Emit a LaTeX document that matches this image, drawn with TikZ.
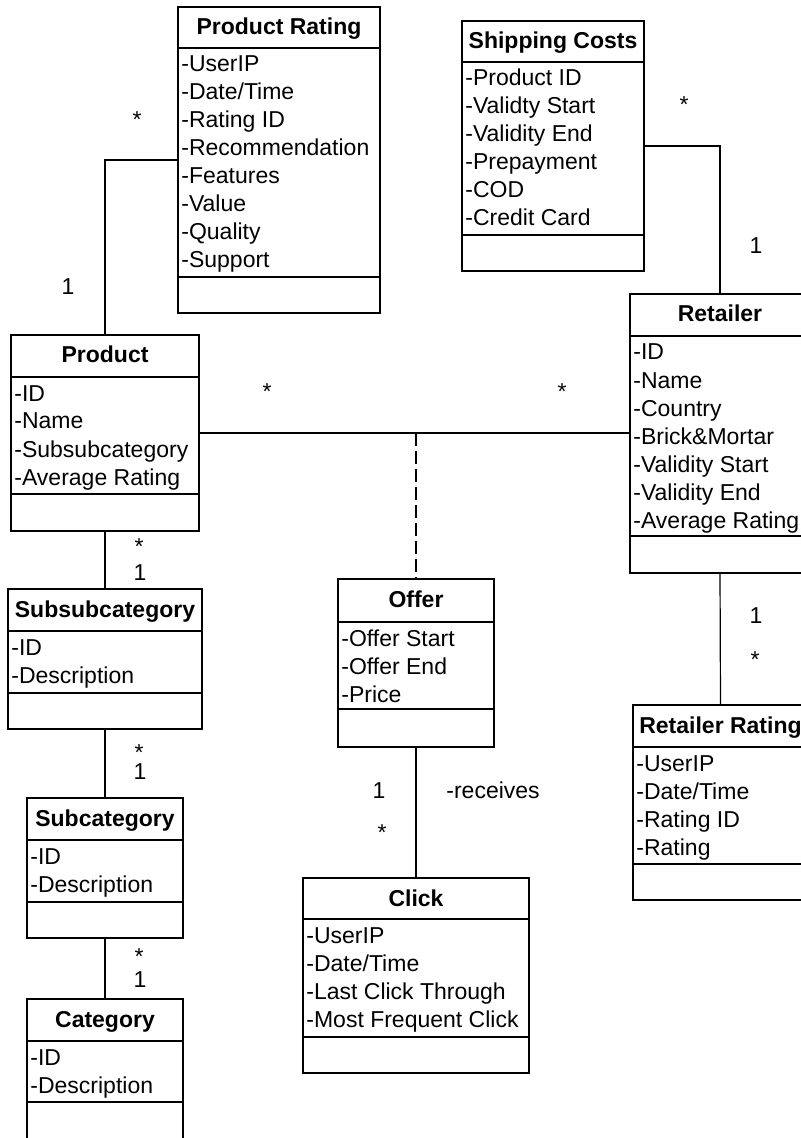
\documentclass[tikz,border=0pt]{standalone}
\usepackage{fontspec}
\setmainfont{Liberation Sans}
\usetikzlibrary{fit}
\tikzset{
  classbox/.style={draw, line width=1pt, inner sep=0pt, outer sep=0pt},
  boxline/.style={line width=1pt},
  titletext/.style={anchor=base, inner sep=0pt, font=\bfseries},
  attrtext/.style={anchor=base west, inner sep=0pt},
  conn/.style={line width=0.6pt},
  mult/.style={anchor=base, inner sep=0pt},
}
\newcommand\umlclass[9]{%
  \coordinate (#1-nw) at (#2,#3);
  \coordinate (#1-se) at (#4,#7);
  \node[classbox, fit=(#1-nw)(#1-se)] (#1) {};
  \draw[boxline] (#2,#5) -- (#4,#5) (#2,#6) -- (#4,#6);
  \node[titletext] (#1-title) at ({(#2+#4)/2},{#3+28}) {#8};
  \foreach \a [count=\i] in {#9} {
    \node[attrtext] (#1-a\i) at ({#2+3},{#5+24+28*(\i-1)}) {\a};
  }
}
\begin{document}
\begin{tikzpicture}[x=0.5pt, y=-0.5pt]
\fontsize{11.5}{14}\selectfont
\useasboundingbox (0,0) rectangle (801,1138);
\clip (0,0) rectangle (801,1138);
\fill[white] (0,0) rectangle (801,1138);

\umlclass{prodrating}{178}{7}{380}{48}{277}{313}{Product Rating}{-UserIP,-Date/Time,-Rating ID,-Recommendation,-Features,-Value,-Quality,-Support}
\umlclass{shipping}{462}{21}{644}{62}{235}{271}{Shipping Costs}{-Product ID,-Validty Start,-Validity End,-Prepayment,-COD,-Credit Card}
\umlclass{retailer}{630}{294}{810}{336}{536}{573}{Retailer}{-ID,-Name,-Country,-Brick\&Mortar,-Validity Start,-Validity End,-Average Rating}
\umlclass{product}{11}{335}{199}{377}{494}{531}{Product}{-ID,-Name,-Subsubcategory,-Average Rating}
\umlclass{subsub}{8}{589}{202}{631}{693}{729}{Subsubcategory}{-ID,-Description}
\umlclass{offer}{338}{579}{494}{622}{709}{747}{Offer}{-Offer Start,-Offer End,-Price}
\umlclass{rr}{633}{705}{808}{747}{864}{900}{Retailer Rating}{-UserIP,-Date/Time,-Rating ID,-Rating}
\umlclass{sub}{27}{798}{183}{840}{902}{938}{Subcategory}{-ID,-Description}
\umlclass{cat}{27}{999}{183}{1041}{1102}{1139}{Category}{-ID,-Description}
\umlclass{click}{303}{878}{529}{919}{1037}{1073}{Click}{-UserIP,-Date/Time,-Last Click Through,-Most Frequent Click}

% connectors
\coordinate (prA) at (178,160);
\draw[conn] (product.north) |- (prA);
\coordinate (shA) at (644,146);
\draw[conn] (retailer.north) |- (shA);
\coordinate (assoc) at (416,433);
\draw[conn] (product.east |- assoc) -- (retailer.west |- assoc);
\draw[conn, dash pattern=on 6.5pt off 2.5pt] (assoc) -- (offer.north);
\draw[conn] (product.south) -- (subsub.north);
\draw[conn] (subsub.south) -- (sub.north);
\draw[conn] (sub.south) -- (cat.north);
\draw[conn] (retailer.south) -- (rr.north);
\draw[conn] (offer.south) -- (click.north);

% multiplicities
\node[mult] (m1) at (137,127.5) {*};
\node[mult] (m2) at (68,295) {1};
\node[mult] (m3) at (684,112.5) {*};
\node[mult] (m4) at (756,254) {1};
\node[mult] (m5) at (267,400) {*};
\node[mult] (m6) at (562,400) {*};
\node[mult] (m7) at (139,554.5) {*};
\node[mult] (m8) at (140,580) {1};
\node[mult] (m9) at (139,760.5) {*};
\node[mult] (m10) at (140,779) {1};
\node[mult] (m11) at (139,964.5) {*};
\node[mult] (m12) at (140,987) {1};
\node[mult] (m13) at (756,623) {1};
\node[mult] (m14) at (755,667.5) {*};
\node[mult] (m15) at (379,798) {1};
\node[mult] (m16) at (382,840.5) {*};
\node[attrtext] (recv) at (446,798) {-receives};
\end{tikzpicture}
\end{document}
